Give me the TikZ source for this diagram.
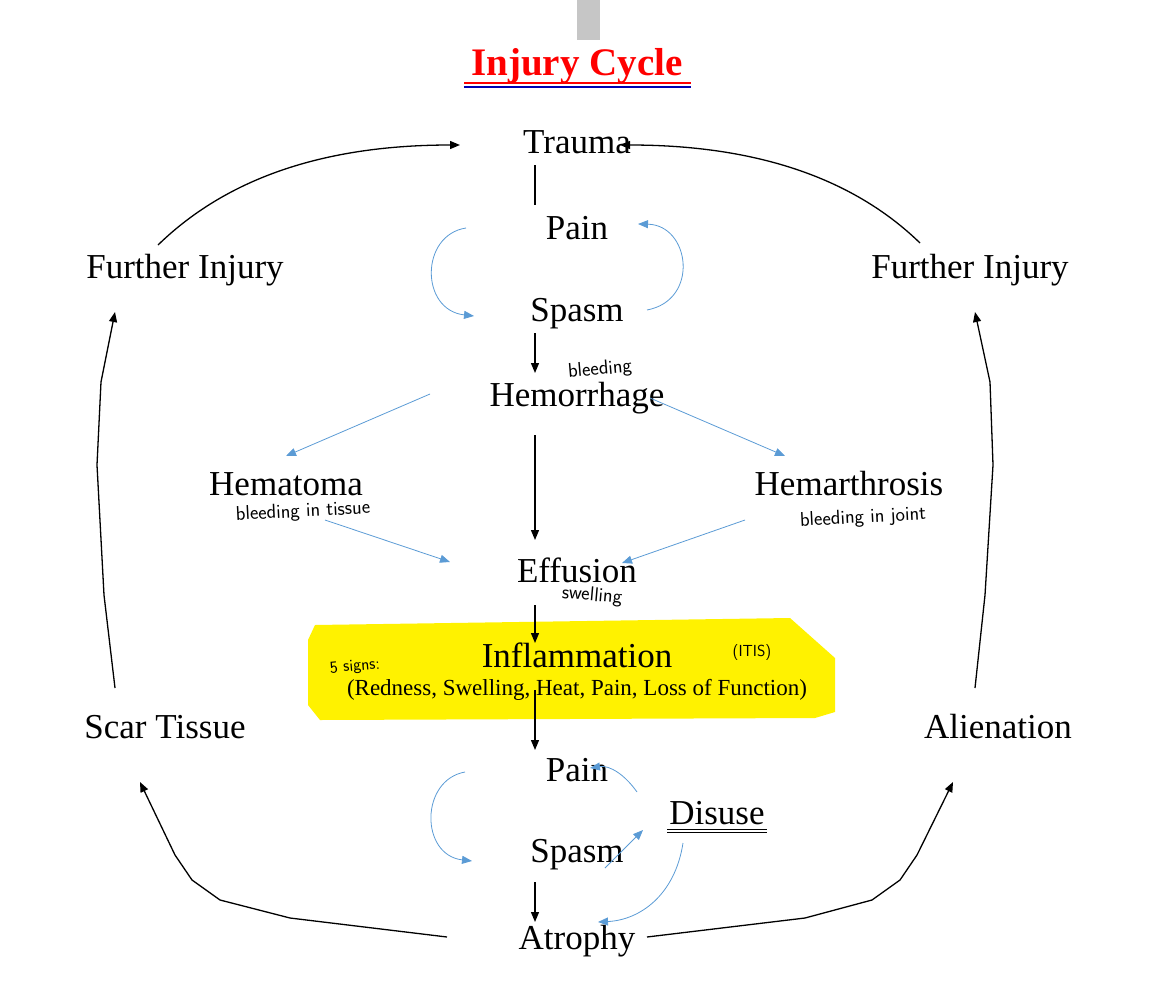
\documentclass[tikz,border=0pt]{standalone}
\usepackage{fontspec}
\setmainfont{Liberation Serif}
\usetikzlibrary{arrows.meta}
\begin{document}
\begin{tikzpicture}[x=1pt,y=-1pt,
  lbl/.style={font=\fontsize{35}{38}\selectfont, inner sep=1pt},
  hw/.style={font=\sffamily\fontsize{20}{22}\selectfont, inner sep=1pt},
  blk/.style={line width=1.3pt,-{Triangle[length=10pt,width=8pt]}},
  blu/.style={draw={rgb,255:red,91;green,155;blue,213},line width=0.8pt,-{Triangle[length=10pt,width=8pt]}}]
\useasboundingbox (0,0) rectangle (1172,998);
\fill[gray!45] (577,0) rectangle (600,40);
\fill[yellow] (315,625) -- (790,618) -- (835,658) -- (835,712) -- (815,718) -- (320,720) -- (308,705) -- (308,640) -- cycle;
\node[font=\fontsize{39}{40}\selectfont\bfseries, text=red, inner sep=0] (title) at (577,66) {Injury Cycle};
\draw[red, line width=1.2pt] (464,83) -- (691,83);
\draw[blue!70!black, line width=1.2pt] (464,87) -- (691,87);
\node[lbl] (trauma) at (577,142) {Trauma};
\node[lbl] (pain1) at (577,228) {Pain};
\node[lbl] (spasm1) at (577,314) {Spasm};
\node[lbl] (hem) at (577,398) {Hemorrhage};
\node[lbl] (hematoma) at (286,484) {Hematoma};
\node[lbl] (hemarth) at (849,484) {Hemarthrosis};
\node[lbl] (eff) at (577,570) {Effusion};
\node[lbl] (infl) at (577,655) {Inflammation};
\node[font=\fontsize{23}{24}\selectfont, inner sep=0] (signs) at (577,690) {(Redness, Swelling, Heat, Pain, Loss of Function)};
\node[lbl] (scar) at (165,727) {Scar Tissue};
\node[lbl] (alien) at (998,727) {Alienation};
\node[lbl] (fil) at (185,270) {Further Injury};
\node[lbl] (fir) at (970,270) {Further Injury};
\node[lbl] (pain2) at (577,770) {Pain};
\node[lbl] (disuse) at (717,813) {Disuse};
\draw[line width=0.6pt] (667,829) -- (767,829) (667,832) -- (767,832);
\node[lbl] (spasm2) at (577,855) {Spasm};
\node[lbl] (atrophy) at (577,941) {Atrophy};
\node[hw, rotate=5] (h1) at (600,370) {bleeding};
\node[hw, rotate=3] (h2) at (303,512) {bleeding in tissue};
\node[hw, rotate=3] (h3) at (863,518) {bleeding in joint};
\node[hw, rotate=-5] (h4) at (592,596) {swelling};
\node[hw, font=\sffamily\fontsize{17}{18}\selectfont, rotate=5] (h5) at (355,667) {5 signs:};
\node[hw, font=\sffamily\fontsize{16}{18}\selectfont] (h6) at (752,652) {(ITIS)};
% black
\coordinate (a1) at (535,165); \coordinate (a2) at (535,205);
\draw[line width=1.3pt] (a1) -- (a2);
\coordinate (b1) at (535,333); \coordinate (b2) at (535,373);
\draw[blk] (b1) -- (b2);
\coordinate (c1) at (535,435); \coordinate (c2) at (535,540);
\draw[blk] (c1) -- (c2);
\coordinate (d1) at (535,605); \coordinate (d2) at (535,643);
\draw[blk] (d1) -- (d2);
\coordinate (e1) at (535,690); \coordinate (e2) at (535,750);
\draw[blk] (e1) -- (e2);
\coordinate (f1) at (535,882); \coordinate (f2) at (535,922);
\draw[blk] (f1) -- (f2);
\coordinate (g1) at (158,245); \coordinate (g2) at (460,145);
\draw[blk] (g1) .. controls (230,175) and (330,145) .. (g2);
\coordinate (k1) at (920,243); \coordinate (k2) at (620,145);
\draw[blk] (k1) .. controls (850,175) and (750,145) .. (k2);
\coordinate (l1) at (115,688); \coordinate (l2) at (115,312);
\draw[blk] (l1) -- (104,595) -- (97,465) -- (101,382) -- (l2);
\coordinate (m1) at (975,688); \coordinate (m2) at (975,312);
\draw[blk] (m1) -- (985,595) -- (993,465) -- (990,382) -- (m2);
\coordinate (n1) at (447,937); \coordinate (n2) at (140,782);
\draw[blk] (n1) -- (290,918) -- (220,900) -- (192,880) -- (175,855) -- (n2);
\coordinate (o1) at (647,937); \coordinate (o2) at (953,782);
\draw[blk] (o1) -- (805,918) -- (872,900) -- (900,880) -- (917,855) -- (o2);
% blue
\coordinate (p1) at (466,228); \coordinate (p2) at (474,316);
\draw[blu] (p1) .. controls (420,235) and (420,310) .. (p2);
\coordinate (q1) at (647,310); \coordinate (q2) at (638,224);
\draw[blu] (q1) .. controls (700,300) and (690,225) .. (q2);
\coordinate (r1) at (430,394); \coordinate (r2) at (286,456);
\draw[blu] (r1) -- (r2);
\coordinate (s1) at (650,398); \coordinate (s2) at (785,456);
\draw[blu] (s1) -- (s2);
\coordinate (t1) at (325,520); \coordinate (t2) at (450,562);
\draw[blu] (t1) -- (t2);
\coordinate (u1) at (745,520); \coordinate (u2) at (622,563);
\draw[blu] (u1) -- (u2);
\coordinate (v1) at (465,772); \coordinate (v2) at (472,861);
\draw[blu] (v1) .. controls (420,780) and (420,855) .. (v2);
\coordinate (w1) at (637,792); \coordinate (w2) at (590,768);
\draw[blu] (w1) .. controls (625,775) and (610,765) .. (w2);
\coordinate (x1) at (605,868); \coordinate (x2) at (643,830);
\draw[blu] (x1) -- (x2);
\coordinate (y1) at (683,843); \coordinate (y2) at (598,922);
\draw[blu] (y1) .. controls (675,895) and (640,920) .. (y2);
\end{tikzpicture}
\end{document}
